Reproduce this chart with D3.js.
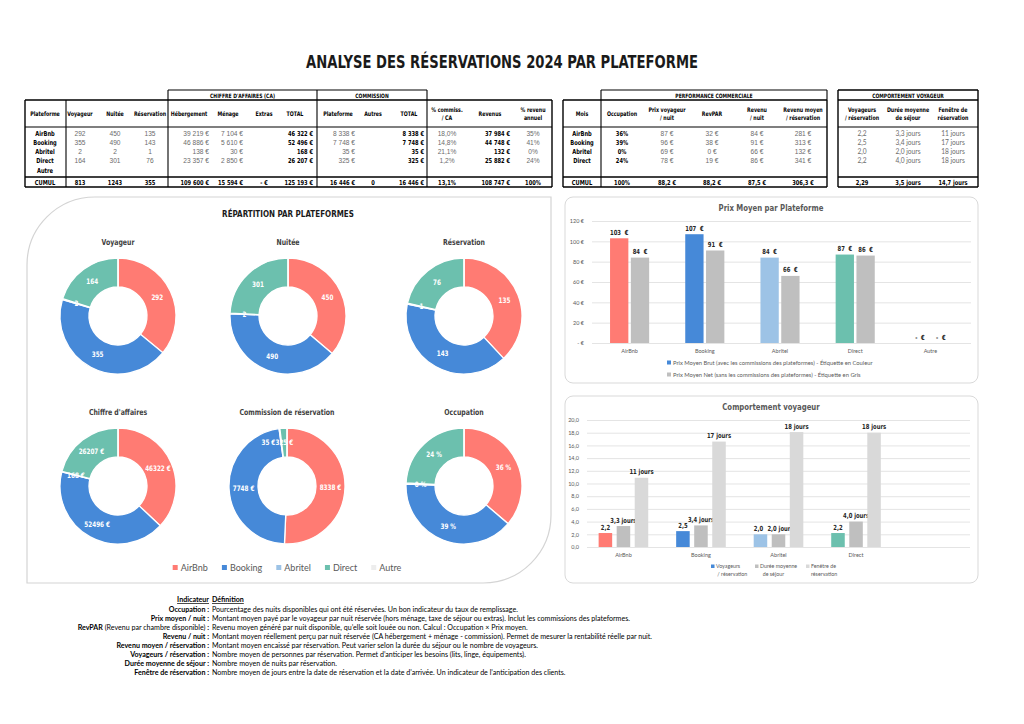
<!DOCTYPE html>
<html>
<head>
<meta charset="utf-8">
<script src="https://cdnjs.cloudflare.com/ajax/libs/d3/7.8.5/d3.min.js"></script>
<style>
	body { margin: 0; background: #fff; }
	svg { display: block; }
</style>
</head>
<body>
<svg id="page" width="1024" height="724"></svg>
<script>
// ---- data ----
const platforms = ["AirBnb", "Booking", "Abritel", "Direct", "Autre"];

// ventes
const voyageurs = [292, 355, 2, 164, null];
const nuitees = [450, 490, 2, 301, null];
const reservations = [135, 143, 1, 76, null];
const hebergement = [39219, 46886, 138, 23357, null];
const menage = [7104, 5610, 30, 2850, null];
const caTotal = [46322, 52496, 168, 26207, null];
const commPlateforme = [8338, 7748, 35, 325, null];
const commTotal = [8338, 7748, 35, 325, null];
const pctCommission = ["18,0%", "14,8%", "21,1%", "1,2%", ""];
const revenus = [37984, 44748, 132, 25882, null];
const pctRevenuAnnuel = ["35%", "41%", "0%", "24%", ""];
const cumulVentes = ["813", "1243", "355", "109 600 €", "15 594 €", "-   €", "125 193 €", "16 446 €", "0", "16 446 €", "13,1%", "108 747 €", "100%"];

// performance commerciale
const occupation = [36, 39, 0.3, 24, null];
const prixVoyageurNuit = [87, 96, 69, 78];
const revpar = [32, 38, 0, 19];
const revenuNuit = [84, 91, 66, 86];
const revenuMoyenResa = [281, 313, 132, 341];
const cumulPerf = ["100%", "88,2 €", "88,2 €", "87,5 €", "306,3 €"];

// comportement voyageur
const voyageursParResa = [2.2, 2.5, 2.0, 2.2];
const dureeSejour = [3.3, 3.4, 2.0, 4.0];
const fenetreResa = [10.9, 16.6, 18.1, 18.0];
const cumulComport = ["2,29", "3,5 jours", "14,7 jours"];

// prix moyen
const prixBrut = [103, 107, 84, 87, 0];
const prixNet = [84, 91, 66, 86, 0];
const prixTicks = [0, 20, 40, 60, 80, 100, 120];
const prixTickLabels = ["-  €", "20 €", "40 €", "60 €", "80 €", "100 €", "120 €"];

const comportCategories = ["AirBnb", "Booking", "Abritel", "Direct", ""];
const comportTicks = [0, 2, 4, 6, 8, 10, 12, 14, 16, 18, 20];
const comportTickLabels = ["0,0", "2,0", "4,0", "6,0", "8,0", "10,0", "12,0", "14,0", "16,0", "18,0", "20,0"];

const defLabels = ["Occupation", "Prix moyen / nuit", "RevPAR", "Revenu / nuit", "Revenu moyen / réservation", "Voyageurs / réservation", "Durée moyenne de séjour", "Fenêtre de réservation"];
const defTexts = [
	"Pourcentage des nuits disponibles qui ont été réservées. Un bon indicateur du taux de remplissage.",
	"Montant moyen payé par le voyageur par nuit réservée (hors ménage, taxe de séjour ou extras). Inclut les commissions des plateformes.",
	"Revenu moyen généré par nuit disponible, qu’elle soit louée ou non. Calcul : Occupation × Prix moyen.",
	"Montant moyen réellement perçu par nuit réservée (CA hébergement + ménage - commission). Permet de mesurer la rentabilité réelle par nuit.",
	"Montant moyen encaissé par réservation. Peut varier selon la durée du séjour ou le nombre de voyageurs.",
	"Nombre moyen de personnes par réservation. Permet d’anticiper les besoins (lits, linge, équipements).",
	"Nombre moyen de nuits par réservation.",
	"Nombre moyen de jours entre la date de réservation et la date d’arrivée. Un indicateur de l’anticipation des clients."
];

// ---- styles ----
const colors = { "AirBnb": "#FF7B73", "Booking": "#4689D8", "Abritel": "#9DC3E6", "Direct": "#6CC0AE", "Autre": "#EDEDED" };
const grayNet = "#BFBFBF";
const grayLight = "#D9D9D9";
const COND = '"Liberation Sans Narrow","DejaVu Sans Condensed",sans-serif';
const SANS = '"Liberation Sans",Arial,sans-serif';
const CAL = 'Lato,"Open Sans",sans-serif';

const fr = d3.formatLocale({ decimal: ",", thousands: " ", grouping: [3], currency: ["", " €"] });
const eur = v => v == null ? "" : fr.format(",.0f")(v) + " €";
const num = v => v == null ? "" : String(v);
const dec1 = v => fr.format(".1f")(v);

const svg = d3.select("#page");
svg.append("rect").attr("width", 1024).attr("height", 724).attr("fill", "#fff");

// text helper, condensed bold text gets squeezed horizontally
function txt(g, x, y, s, o = {}) {
	const font = o.font || COND;
	const sx = o.sx || (font === COND ? 0.84 : 1);
	const t = g.append("text").text(s)
		.attr("font-family", font)
		.attr("font-weight", o.weight || (o.font ? "normal" : "bold"))
		.attr("font-size", o.size || 7)
		.attr("fill", o.fill || "#000")
		.attr("text-anchor", o.anchor || "middle");
	if (sx !== 1) t.attr("transform", `translate(${x},${y}) scale(${sx},1)`);
	else t.attr("x", x).attr("y", y);
	return t;
}
function line(g, x1, y1, x2, y2, w) {
	g.append("line").attr("x1", x1).attr("y1", y1).attr("x2", x2).attr("y2", y2)
		.attr("stroke", "#000").attr("stroke-width", w || 1.1);
}

// ---- title ----
svg.append("text").attr("x", 502).attr("y", 68)
	.attr("text-anchor", "middle").attr("font-family", COND).attr("font-weight", "bold")
	.attr("font-size", 18).attr("fill", "#1a1a1a")
	.attr("textLength", 392).attr("lengthAdjust", "spacingAndGlyphs")
	.text("ANALYSE DES RÉSERVATIONS 2024 PAR PLATEFORME");

// ---- tables ----
const rowY = [135.5, 144.5, 153.5, 162.5, 172.5];
const cumulY = 184.5;

function drawColumns(g, cols) {
	cols.forEach(c => {
		const hx = c.hx || c.x;
		if (c.head.length === 1) {
			txt(g, hx, 116, c.head[0], { size: 6.3 });
		} else {
			txt(g, hx, 111.5, c.head[0], { size: 6.3 });
			txt(g, hx, 120, c.head[1], { size: 6.3 });
		}
		c.vals.forEach((v, i) => {
			if (c.label) txt(g, c.x, rowY[i], v, { size: 6.8 });
			else if (c.bold) txt(g, c.x, rowY[i], v, { size: 6.8, anchor: c.anchor });
			else txt(g, c.x, rowY[i], v, { font: c.font || SANS, size: 6.6, fill: "#6b6b6b", anchor: c.anchor });
		});
		txt(g, c.x, cumulY, c.cumul, { size: 6.8, anchor: c.anchor });
	});
}

const t1 = svg.append("g");
drawColumns(t1, [
	{ x: 45, head: ["Plateforme"], vals: platforms, cumul: "CUMUL", label: true },
	{ x: 80, head: ["Voyageur"], vals: voyageurs.map(num), cumul: cumulVentes[0] },
	{ x: 115, head: ["Nuitée"], vals: nuitees.map(num), cumul: cumulVentes[1] },
	{ x: 150, head: ["Réservation"], vals: reservations.map(num), cumul: cumulVentes[2] },
	{ x: 209, hx: 189, anchor: "end", head: ["Hébergement"], vals: hebergement.map(eur), cumul: cumulVentes[3] },
	{ x: 243, hx: 228, anchor: "end", head: ["Ménage"], vals: menage.map(eur), cumul: cumulVentes[4] },
	{ x: 264, head: ["Extras"], vals: ["", "", "", "", ""], cumul: cumulVentes[5] },
	{ x: 313, hx: 295, anchor: "end", head: ["TOTAL"], vals: caTotal.map(eur), cumul: cumulVentes[6], bold: true },
	{ x: 355, hx: 338, anchor: "end", head: ["Plateforme"], vals: commPlateforme.map(eur), cumul: cumulVentes[7] },
	{ x: 373, head: ["Autres"], vals: ["", "", "", "", ""], cumul: cumulVentes[8] },
	{ x: 424, hx: 409, anchor: "end", head: ["TOTAL"], vals: commTotal.map(eur), cumul: cumulVentes[9], bold: true },
	{ x: 447, head: ["% commiss.", "/ CA"], vals: pctCommission, cumul: cumulVentes[10] },
	{ x: 510, hx: 490, anchor: "end", head: ["Revenus"], vals: revenus.map(eur), cumul: cumulVentes[11], bold: true },
	{ x: 533, head: ["% revenu", "annuel"], vals: pctRevenuAnnuel, cumul: cumulVentes[12] }
]);
// grid of table 1
line(t1, 168, 90, 427, 90); line(t1, 168, 90, 168, 100); line(t1, 317, 90, 317, 100); line(t1, 427, 90, 427, 100);
txt(t1, 242.5, 97.8, "CHIFFRE D'AFFAIRES (CA)", { size: 6 });
txt(t1, 372, 97.8, "COMMISSION", { size: 6 });
line(t1, 25, 100, 552, 100, 1.4); line(t1, 25, 127, 552, 127); line(t1, 25, 177, 552, 177, 1.4); line(t1, 25, 187, 552, 187, 1.4);
[25, 552].forEach(x => line(t1, x, 100, x, 187, 1.4));
[66, 168, 317, 427].forEach(x => line(t1, x, 100, x, 187));

const t2 = svg.append("g");
const pct0 = v => Math.round(v) + "%";
const eur0 = v => v + " €";
drawColumns(t2, [
	{ x: 582, head: ["Mois"], vals: platforms.slice(0, 4), cumul: "CUMUL", label: true },
	{ x: 622, head: ["Occupation"], vals: occupation.slice(0, 4).map(pct0), cumul: cumulPerf[0], bold: true },
	{ x: 667, head: ["Prix voyageur", "/ nuit"], vals: prixVoyageurNuit.map(eur0), cumul: cumulPerf[1] },
	{ x: 712, head: ["RevPAR"], vals: revpar.map(eur0), cumul: cumulPerf[2] },
	{ x: 757, head: ["Revenu", "/ nuit"], vals: revenuNuit.map(eur0), cumul: cumulPerf[3] },
	{ x: 803, head: ["Revenu moyen", "/ réservation"], vals: revenuMoyenResa.map(eur0), cumul: cumulPerf[4] }
]);
line(t2, 601, 90, 827, 90); line(t2, 601, 90, 601, 100); line(t2, 827, 90, 827, 100);
txt(t2, 714, 97.8, "PERFORMANCE COMMERCIALE", { size: 6 });
line(t2, 563, 100, 827, 100, 1.4); line(t2, 563, 127, 827, 127); line(t2, 563, 177, 827, 177, 1.4); line(t2, 563, 187, 827, 187, 1.4);
[563, 827].forEach(x => line(t2, x, 100, x, 187, 1.4));
line(t2, 601, 100, 601, 187);

const t3 = svg.append("g");
drawColumns(t3, [
	{ x: 862, head: ["Voyageurs", "/ réservation"], vals: voyageursParResa.map(dec1), cumul: cumulComport[0], font: CAL },
	{ x: 908, head: ["Durée moyenne", "de séjour"], vals: dureeSejour.map(v => dec1(v) + " jours"), cumul: cumulComport[1], font: CAL },
	{ x: 953, head: ["Fenêtre de", "réservation"], vals: fenetreResa.map(v => Math.round(v) + " jours"), cumul: cumulComport[2], font: CAL }
]);
line(t3, 838, 90, 978, 90, 1.4);
txt(t3, 908, 97.8, "COMPORTEMENT VOYAGEUR", { size: 6 });
line(t3, 838, 100, 978, 100, 1.4); line(t3, 838, 127, 978, 127); line(t3, 838, 177, 978, 177, 1.4); line(t3, 838, 187, 978, 187, 1.4);
[838, 978].forEach(x => line(t3, x, 90, x, 187, 1.4));

// ---- donut panel ----
const dp = svg.append("g");
{
	const x0 = 27, y0 = 197, x1 = 551, y1 = 583, r = 68;
	dp.append("path")
		.attr("d", `M${x0},${y0 + r} A${r},${r} 0 0 1 ${x0 + r},${y0} L${x1},${y0} L${x1},${y1 - r} A${r},${r} 0 0 1 ${x1 - r},${y1} L${x0},${y1} Z`)
		.attr("fill", "#fff").attr("stroke", "#d4d4d4").attr("stroke-width", 1.2);
}
txt(dp, 288, 217, "RÉPARTITION PAR PLATEFORMES", { size: 9.5, fill: "#1a1a1a" });

function donut(cx, cy, title, values, fmt) {
	const g = dp.append("g").attr("transform", `translate(${cx},${cy})`);
	const pie = d3.pie().sort(null).value(d => d.v);
	const arcs = pie(platforms.map((p, i) => ({ p: p, v: values[i] || 0 })));
	const arc = d3.arc().innerRadius(29).outerRadius(58);
	const mid = d3.arc().innerRadius(43.5).outerRadius(43.5);
	g.selectAll("path").data(arcs).join("path")
		.attr("d", arc)
		.attr("fill", d => colors[d.data.p])
		.attr("stroke", "#fff").attr("stroke-width", 1.3);
	const shown = arcs.filter(d => d.data.v > 0);
	shown.forEach((d, i) => {
		const c = mid.centroid(d);
		// two thin neighbouring slices: push the first label aside
		const next = shown[i + 1];
		const thin = a => a.endAngle - a.startAngle < 0.25;
		const dx = (next && thin(d) && thin(next)) ? -13 : 0;
		txt(g, c[0] + dx, c[1] + 2.6, fmt(d.data.v), { size: 7.5, fill: "#fff" });
	});
	txt(dp, cx, cy - 71, title, { size: 8.2, fill: "#404040" });
}
donut(118, 316, "Voyageur", voyageurs, num);
donut(288, 316, "Nuitée", nuitees, num);
donut(464, 316, "Réservation", reservations, num);
donut(118, 486, "Chiffre d'affaires", caTotal, v => v + " €");
donut(287, 486, "Commission de réservation", commTotal, v => v + " €");
donut(464, 486, "Occupation", occupation, v => Math.round(v) + " %");

// donut legend
{
	const lg = dp.append("g");
	let x = 0;
	platforms.forEach(p => {
		const it = lg.append("g").attr("transform", `translate(${x},0)`);
		it.append("rect").attr("x", 0).attr("y", -4).attr("width", 5).attr("height", 5).attr("fill", colors[p]);
		const t = txt(it, 8, 1.5, p, { font: CAL, size: 9, fill: "#595959", anchor: "start" });
		x += 8 + t.node().getComputedTextLength() + 14;
	});
	lg.attr("transform", `translate(${287 - (x - 14) / 2},569)`);
}

// ---- chart: prix moyen ----
const c1 = svg.append("g");
c1.append("rect").attr("x", 565).attr("y", 197).attr("width", 413).attr("height", 186).attr("rx", 8)
	.attr("fill", "#fff").attr("stroke", "#d9d9d9");
txt(c1, 771, 211, "Prix Moyen par Plateforme", { size: 9.2, fill: "#595959" });

const xP = d3.scaleBand().domain(platforms).range([592, 968]).paddingInner(0.48).paddingOuter(0.24);
const xPs = d3.scaleBand().domain(["brut", "net"]).range([0, xP.bandwidth()]).paddingInner(0.12);
const yP = d3.scaleLinear().domain([0, 120]).range([343, 221]);

function styleAxis(g) {
	g.select(".domain").remove();
	g.selectAll("line").attr("stroke", grayLight).attr("stroke-width", 0.7);
	g.selectAll("text").attr("font-family", CAL).attr("font-size", 5.5).attr("fill", "#595959");
}
c1.append("g").attr("transform", "translate(592,0)")
	.call(d3.axisLeft(yP).tickValues(prixTicks).tickSize(-379).tickPadding(8).tickFormat((d, i) => prixTickLabels[i]))
	.call(styleAxis);
c1.append("g").attr("transform", "translate(0,343)")
	.call(d3.axisBottom(xP).tickSize(0).tickPadding(6))
	.call(styleAxis);

const prixRows = platforms.map((p, i) => ({ p: p, brut: prixBrut[i], net: prixNet[i] }));
const pg = c1.selectAll("g.grp").data(prixRows).join("g").attr("class", "grp")
	.attr("transform", d => `translate(${xP(d.p)},0)`);
["brut", "net"].forEach(k => {
	pg.append("rect")
		.attr("x", xPs(k)).attr("width", xPs.bandwidth())
		.attr("y", d => yP(d[k])).attr("height", d => yP(0) - yP(d[k]))
		.attr("fill", d => k === "brut" ? colors[d.p] : grayNet);
	pg.each(function (d) {
		txt(d3.select(this), xPs(k) + xPs.bandwidth() / 2, yP(d[k]) - 3.5,
			d[k] === 0 ? "-  €" : d[k] + "  €", { size: 7, fill: "#262626" }).style("white-space", "pre");
	});
});
{
	const lg = c1.append("g");
	lg.append("rect").attr("x", 667).attr("y", 360.5).attr("width", 4).attr("height", 4).attr("fill", colors.Booking);
	txt(lg, 673, 364.5, "Prix Moyen Brut (avec les commissions des plateformes) - Étiquette en Couleur", { font: CAL, size: 5.8, fill: "#595959", anchor: "start" });
	lg.append("rect").attr("x", 667).attr("y", 372.5).attr("width", 4).attr("height", 4).attr("fill", grayNet);
	txt(lg, 673, 376.5, "Prix Moyen Net (sans les commissions des plateformes) - Étiquette en Gris", { font: CAL, size: 5.8, fill: "#595959", anchor: "start" });
}

// ---- chart: comportement voyageur ----
const c2 = svg.append("g");
c2.append("rect").attr("x", 565).attr("y", 396).attr("width", 413).attr("height", 187).attr("rx", 8)
	.attr("fill", "#fff").attr("stroke", "#d9d9d9");
txt(c2, 771, 410, "Comportement voyageur", { size: 9.2, fill: "#595959" });

const xC = d3.scaleBand().domain(comportCategories).range([587, 970]).paddingInner(0.36).paddingOuter(0.15);
const series = ["voy", "duree", "fen"];
const xCs = d3.scaleBand().domain(series).range([0, xC.bandwidth()]).paddingInner(0.25);
const yC = d3.scaleLinear().domain([0, 20]).range([547, 420]);

c2.append("g").attr("transform", "translate(587,0)")
	.call(d3.axisLeft(yC).tickValues(comportTicks).tickSize(-383).tickPadding(8).tickFormat((d, i) => comportTickLabels[i]))
	.call(styleAxis);
c2.append("g").attr("transform", "translate(0,547)")
	.call(d3.axisBottom(xC).tickSize(0).tickPadding(6))
	.call(styleAxis);

const comportRows = comportCategories.slice(0, 4).map((c, i) => ({
	c: c, voy: voyageursParResa[i], duree: dureeSejour[i], fen: fenetreResa[i]
}));
const labelFmt = {
	voy: v => dec1(v),
	duree: v => dec1(v) + " jours",
	fen: v => Math.round(v) + " jours"
};
const fillFor = { voy: d => colors[d.c], duree: () => grayNet, fen: () => grayLight };
const cg = c2.selectAll("g.grp").data(comportRows).join("g").attr("class", "grp")
	.attr("transform", d => `translate(${xC(d.c)},0)`);
series.forEach(k => {
	cg.append("rect")
		.attr("x", xCs(k)).attr("width", xCs.bandwidth())
		.attr("y", d => yC(d[k])).attr("height", d => yC(0) - yC(d[k]))
		.attr("fill", fillFor[k]);
	cg.each(function (d) {
		// small shift so the two labels of equal bars stay readable
		const dx = (k === "voy" && d.voy === d.duree) ? -2 : (k === "duree" && d.voy === d.duree ? 2 : 0);
		txt(d3.select(this), xCs(k) + xCs.bandwidth() / 2 + dx, yC(d[k]) - 3.5, labelFmt[k](d[k]), { size: 7, fill: "#262626" });
	});
});
{
	const lg = c2.append("g");
	const leg = [
		{ x: 711, c: colors.Booking, l: ["Voyageurs", " / réservation"] },
		{ x: 755, c: grayNet, l: ["Durée moyenne", "  de séjour"] },
		{ x: 806, c: grayLight, l: ["Fenêtre de", "réservation"] }
	];
	leg.forEach(d => {
		lg.append("rect").attr("x", d.x).attr("y", 564.5).attr("width", 3.5).attr("height", 3.5).attr("fill", d.c);
		txt(lg, d.x + 5, 568, d.l[0], { font: CAL, size: 5.3, fill: "#595959", anchor: "start" });
		txt(lg, d.x + 5, 576, d.l[1], { font: CAL, size: 5.3, fill: "#595959", anchor: "start" }).style("white-space", "pre");
	});
}

// ---- definitions ----
const df = svg.append("g");
txt(df, 209, 602, "Indicateur", { font: CAL, weight: "bold", size: 7.1, fill: "#000", anchor: "end" }).attr("text-decoration", "underline");
txt(df, 212, 602, "Définition", { font: CAL, weight: "bold", size: 7.1, fill: "#000", anchor: "start" }).attr("text-decoration", "underline");
defLabels.forEach((l, i) => {
	const y = 611.5 + i * 9;
	const t = df.append("text").attr("x", 209).attr("y", y).attr("text-anchor", "end")
		.attr("font-family", CAL).attr("font-size", 7.1).attr("fill", "#000");
	t.append("tspan").attr("font-weight", "bold").text(l);
	if (l === "RevPAR") t.append("tspan").text(" (Revenu par chambre disponible)");
	t.append("tspan").attr("font-weight", "bold").text(" :");
	txt(df, 212, y, defTexts[i], { font: CAL, size: 7.1, fill: "#000", anchor: "start" });
});
</script>
</body>
</html>
